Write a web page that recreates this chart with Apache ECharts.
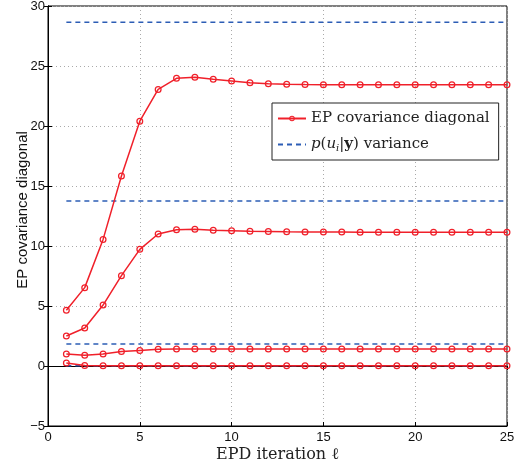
<!DOCTYPE html>
<html>
<head>
<meta charset="utf-8">
<script src="https://cdn.jsdelivr.net/npm/echarts@6/dist/echarts.min.js"></script>
<style>
  html, body { margin: 0; padding: 0; background: #fff; }
  #chart { width: 523px; height: 460px; }
</style>
</head>
<body>
<div id="chart"></div>
<script>
// EP covariance diagonal vs EPD iteration
var iterations = [1, 2, 3, 4, 5, 6, 7, 8, 9, 10, 11, 12, 13, 14, 15, 16, 17, 18, 19, 20, 21, 22, 23, 24, 25];

var epDiag1 = [4.64, 6.53, 10.55, 15.83, 20.4, 23.05, 23.97, 24.06, 23.89, 23.75, 23.6, 23.52, 23.47, 23.45, 23.44, 23.43, 23.43, 23.43, 23.43, 23.43, 23.43, 23.43, 23.43, 23.43, 23.43];
var epDiag2 = [2.5, 3.17, 5.08, 7.53, 9.72, 11.0, 11.35, 11.4, 11.32, 11.27, 11.22, 11.2, 11.18, 11.17, 11.16, 11.16, 11.15, 11.15, 11.15, 11.15, 11.15, 11.15, 11.15, 11.15, 11.15];
var epDiag3 = [1.0, 0.89, 1.0, 1.2, 1.3, 1.4, 1.42, 1.42, 1.42, 1.42, 1.42, 1.42, 1.42, 1.42, 1.42, 1.42, 1.42, 1.42, 1.42, 1.42, 1.42, 1.42, 1.42, 1.42, 1.42];
var epDiag4 = [0.25, 0.05, 0.03, 0.02, 0.02, 0.02, 0.02, 0.02, 0.02, 0.02, 0.02, 0.02, 0.02, 0.02, 0.02, 0.02, 0.02, 0.02, 0.02, 0.02, 0.02, 0.02, 0.02, 0.02, 0.02];

// exact posterior variances (horizontal dashed lines)
var trueVariance = [28.65, 13.75, 1.83, 0.02];

var epName = 'EP covariance diagonal';
var varName = 'p(u_i|y) variance';
var red = '#f0202a';
var blue = '#2c5db5';

// open ring marker, the line shows through it (matlab 'o')
var ring = 'path://M10,0 A10,10 0 1,1 10,20 A10,10 0 1,1 10,0 Z ' +
    'M10,3.6 A6.4,6.4 0 1,0 10,16.4 A6.4,6.4 0 1,0 10,3.6 Z';

function pairs(ys) {
    return iterations.map(function (x, i) { return [x, ys[i]]; });
}

var series = [];
[epDiag1, epDiag2, epDiag3, epDiag4].forEach(function (ys) {
    series.push({
        name: epName,
        type: 'line',
        data: pairs(ys),
        symbol: ring,
        symbolSize: 7,
        showSymbol: true,
        lineStyle: { color: red, width: 1.5 },
        itemStyle: { color: red },
        z: 3
    });
});
trueVariance.forEach(function (v) {
    series.push({
        name: varName,
        type: 'line',
        data: [[iterations[0], v], [iterations[iterations.length - 1], v]],
        symbol: 'none',
        lineStyle: { color: blue, width: 1.5, type: [5, 4] },
        itemStyle: { color: blue },
        z: 2
    });
});

var tickFont = { fontFamily: 'Liberation Sans, Arial, sans-serif', fontSize: 13, color: '#111' };
var serif = 'DejaVu Serif, serif';

var chart = echarts.init(document.getElementById('chart'));
chart.setOption({
    animation: false,
    grid: {
        left: 48, right: 16, top: 6, bottom: 34,
        containLabel: false, outerBoundsMode: 'none',
        show: true, borderColor: '#000', borderWidth: 1
    },
    legend: {
        data: [
            { name: epName },
            { name: varName, itemStyle: { opacity: 0 } }
        ],
        orient: 'vertical',
        left: 272,
        top: 103,
        backgroundColor: '#fff',
        borderColor: '#222',
        borderWidth: 1,
        padding: [8, 9, 7, 5],
        itemGap: 11,
        itemWidth: 28,
        itemHeight: 7,
        formatter: function (name) {
            if (name === varName) {
                return '{it|p}(' + '{it|u}{sub|i}|{b|y}) variance';
            }
            return name;
        },
        textStyle: {
            fontFamily: serif,
            fontSize: 15,
            color: '#222',
            rich: {
                it: { fontStyle: 'italic', fontFamily: serif, fontSize: 15, color: '#222' },
                sub: { fontStyle: 'italic', fontFamily: serif, fontSize: 10, color: '#222', verticalAlign: 'bottom', padding: [7, 0, 0, 0] },
                b: { fontWeight: 'bold', fontFamily: serif, fontSize: 15, color: '#222' }
            }
        }
    },
    xAxis: [{
        type: 'value',
        min: 0, max: 25, interval: 5,
        name: 'EPD iteration ℓ',
        nameLocation: 'middle',
        nameGap: 21,
        nameMoveOverlap: false,
        nameTextStyle: { fontFamily: serif, fontSize: 16, color: '#222' },
        axisLine: { show: true, onZero: false, lineStyle: { color: '#000' } },
        axisTick: { inside: true, length: 4, lineStyle: { color: '#000' } },
        axisLabel: Object.assign({ margin: 5 }, tickFont),
        splitLine: { show: true, lineStyle: { color: '#aaa', type: [1, 3] } }
    }, {
        type: 'value', position: 'top',
        min: 0, max: 25, interval: 5,
        axisLine: { show: true, lineStyle: { color: '#000' } },
        axisTick: { inside: true, length: 4, lineStyle: { color: '#000' } },
        axisLabel: { show: false },
        splitLine: { show: false }
    }],
    yAxis: [{
        type: 'value',
        min: -5, max: 30, interval: 5,
        name: 'EP covariance diagonal',
        nameLocation: 'middle',
        nameGap: 18,
        nameMoveOverlap: false,
        nameTextStyle: { fontFamily: 'Liberation Sans, Arial, sans-serif', fontSize: 15, color: '#111', padding: [0, 0, 0, 12] },
        axisLine: { show: true, onZero: false, lineStyle: { color: '#000' } },
        axisTick: { inside: true, length: 4, lineStyle: { color: '#000' } },
        axisLabel: Object.assign({
            margin: 3,
            formatter: function (v) { return String(v).replace('-', '\u2212'); }
        }, tickFont),
        splitLine: { show: true, lineStyle: { color: '#aaa', type: [1, 3] } }
    }, {
        type: 'value', position: 'right',
        min: -5, max: 30, interval: 5,
        axisLine: { show: true, lineStyle: { color: '#000' } },
        axisTick: { inside: true, length: 4, lineStyle: { color: '#000' } },
        axisLabel: { show: false },
        splitLine: { show: false }
    }],
    series: series
});
</script>
</body>
</html>
